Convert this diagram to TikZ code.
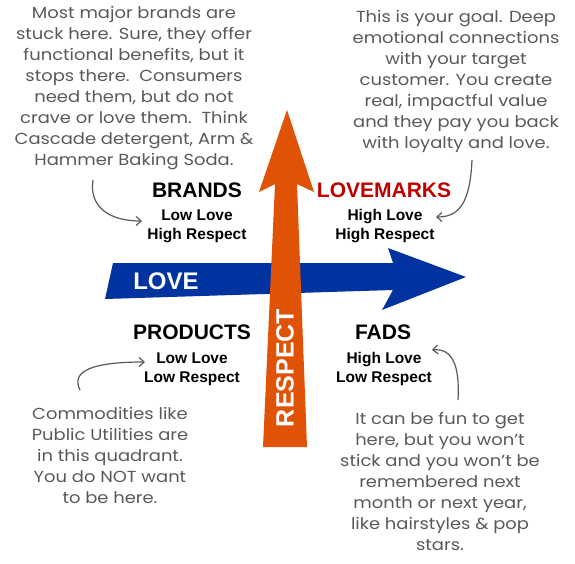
\documentclass[tikz,border=0pt]{standalone}
\usepackage{fontspec}
\setmainfont{Liberation Sans}
\newfontfamily\handfont[FakeStretch=1.12]{Poppins}
\usetikzlibrary{arrows.meta}
\definecolor{loveblue}{HTML}{0033A0}
\definecolor{respectorange}{HTML}{E05206}
\definecolor{lovemarkred}{HTML}{C00000}
\definecolor{notegray}{HTML}{595959}

\begin{document}
\begin{tikzpicture}[
  x=1pt, y=-1pt,
  quadtitle/.style={font=\fontsize{21}{23}\selectfont\bfseries},
  quadsub/.style={font=\fontsize{15.5}{19}\selectfont\bfseries, align=center},
  note/.style={font=\handfont\fontsize{16}{21}\selectfont, text=notegray, align=center},
  pointer/.style={-{Straight Barb[length=5pt,width=9pt]}, notegray, line width=1.2pt}
]
\useasboundingbox (0,0) rectangle (575,564);

% Love axis
\fill[loveblue] (113,263) -- (393,263) -- (388,248) -- (466,277) -- (382,310) -- (393,290) -- (105,299) -- cycle;
\node[font=\fontsize{24}{24}\selectfont\bfseries, text=white] (love) at (166,281) {LOVE};

% Respect axis
\fill[respectorange] (275,184) -- (259,192) -- (287,110) -- (314,192) -- (297,184) -- (307,447) -- (263,447) -- cycle;
\node[rotate=90, font=\fontsize{25}{25}\selectfont\bfseries, text=white] (respect) at (285,368) {RESPECT};

% Quadrants
\node[quadtitle] (brands) at (197,190) {BRANDS};
\node[quadsub] (brandssub) at (197,226) {Low Love\\High Respect};
\node[quadtitle, text=lovemarkred] (lovemarks) at (384,190) {LOVEMARKS};
\node[quadsub] (lovemarkssub) at (385,226) {High Love\\High Respect};
\node[quadtitle] (products) at (192,332) {PRODUCTS};
\node[quadsub] (productssub) at (192,369) {Low Love\\Low Respect};
\node[quadtitle] (fads) at (383,332) {FADS};
\node[quadsub] (fadssub) at (384,369) {High Love\\Low Respect};

% Notes
\node[note] (brandsnote) at (134,88) {Most major brands are\\stuck here. Sure, they offer\\functional benefits, but it\\stops there.\ \ Consumers\\need them, but do not\\crave or love them.\ \ Think\\Cascade detergent, Arm \&\\Hammer Baking Soda.};
\node[note] (lovemarksnote) at (456,81) {This is your goal. Deep\\emotional connections\\with your target\\customer. You create\\real, impactful value\\and they pay you back\\with loyalty and love.};
\node[note] (productsnote) at (110,455) {Commodities like\\Public Utilities are\\in this quadrant.\\You do NOT want\\to be here.};
\node[note] (fadsnote) at (440,481) {It can be fun to get\\here, but you won’t\\stick and you won’t be\\remembered next\\month or next year,\\like hairstyles \& pop\\stars.};

% Pointers
\coordinate (brandsfrom) at (93,180);
\coordinate (brandsto) at (142,221);
\coordinate (lovemarksfrom) at (472,160);
\coordinate (lovemarksto) at (436,217);
\coordinate (productsfrom) at (80,390);
\coordinate (productsto) at (145,362);
\coordinate (fadsfrom) at (458,400);
\coordinate (fadsto) at (432,350);
\draw[pointer] (brandsfrom) .. controls (89,206) and (108,221) .. (brandsto);
\draw[pointer] (lovemarksfrom) .. controls (470,205) and (458,217) .. (lovemarksto);
\draw[pointer] (productsfrom) .. controls (70,370) and (95,362) .. (productsto);
\draw[pointer] (fadsfrom) .. controls (460,365) and (452,348) .. (fadsto);

\end{tikzpicture}
\end{document}
